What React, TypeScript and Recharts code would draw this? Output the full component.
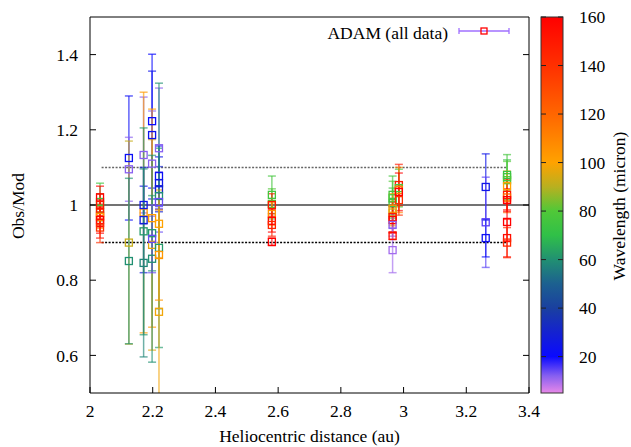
import React from 'react';
import { ScatterChart, Scatter, XAxis, YAxis, ErrorBar, ReferenceLine } from 'recharts';

// heliocentric distance (au) of each observing epoch
const epochs = [2.032, 2.124, 2.171, 2.198, 2.22, 2.58, 2.965, 2.985, 3.262, 3.33];

// [obs/mod, error, wavelength (micron)] for each epoch
const obs0 = [[1.008, 0.05, 75], [0.99, 0.04, 78], [1.02, 0.03, 160], [1.0, 0.03, 150], [0.98, 0.035, 150], [0.972, 0.03, 145], [0.968, 0.03, 105], [0.96, 0.035, 160], [0.952, 0.04, 155], [0.94, 0.04, 140]];
const obs1 = [[1.125, 0.165, 22], [1.095, 0.085, 12], [0.9, 0.27, 92], [0.851, 0.22, 60]];
const obs2 = [[1.133, 0.154, 12], [0.98, 0.32, 103], [1.0, 0.05, 25], [0.96, 0.14, 28], [0.93, 0.275, 62], [0.846, 0.25, 58]];
const obs3 = [[1.223, 0.178, 20], [1.186, 0.17, 24], [1.11, 0.14, 12], [0.965, 0.29, 102], [0.894, 0.28, 96], [0.925, 0.1, 62], [0.857, 0.275, 60], [0.91, 0.09, 14]];
const obs4 = [[1.151, 0.16, 12], [1.077, 0.08, 22], [1.058, 0.07, 25], [1.042, 0.06, 30], [1.024, 0.3, 60], [1.008, 0.08, 14], [0.95, 0.09, 100], [0.886, 0.265, 62], [0.867, 0.12, 104], [0.716, 0.3, 98]];
const obs5 = [[1.027, 0.05, 76], [1.003, 0.04, 80], [1.0, 0.03, 150], [0.976, 0.03, 105], [0.958, 0.03, 160], [0.947, 0.03, 145], [0.902, 0.01, 160]];
const obs6 = [[1.027, 0.05, 76], [1.018, 0.045, 80], [1.005, 0.04, 74], [0.99, 0.04, 105], [0.98, 0.035, 95], [0.968, 0.04, 150], [0.96, 0.035, 160], [0.947, 0.03, 12], [0.918, 0.01, 155], [0.88, 0.06, 10]];
const obs7 = [[1.053, 0.055, 150], [1.045, 0.05, 78], [1.04, 0.06, 110], [1.035, 0.05, 160], [1.013, 0.04, 140]];
const obs8 = [[1.048, 0.088, 25], [0.954, 0.12, 15], [0.912, 0.05, 22]];
const obs9 = [[1.08, 0.04, 72], [1.074, 0.06, 76], [1.066, 0.05, 80], [1.05, 0.04, 100], [1.027, 0.04, 150], [1.02, 0.04, 120], [1.013, 0.03, 160], [0.955, 0.05, 160], [0.912, 0.05, 155], [0.9, 0.04, 145]];
const observations = [obs0, obs1, obs2, obs3, obs4, obs5, obs6, obs7, obs8, obs9];

const xTicks = [2, 2.2, 2.4, 2.6, 2.8, 3, 3.2, 3.4];
const yTicks = [0.6, 0.8, 1, 1.2, 1.4];
const cbTicks = [20, 40, 60, 80, 100, 120, 140, 160];
const cbRange = [5, 160];
const bandLines = [0.9, 1.1];
const bandX = [2.037, 3.33];

// palette of the colour bar
const wlStops = [5, 12, 20, 30, 40, 50, 60, 70, 80, 90, 100, 120, 140, 160];
const wlColors = ['#e888e8', '#8860f0', '#0a0aff', '#1422d0', '#1a40a0', '#1c6090', '#219072', '#30c048', '#50c838', '#b8b020', '#ffa200', '#ff6600', '#ff3000', '#ff0000'];

const hex = (c: string) => [1, 3, 5].map((i) => parseInt(c.slice(i, i + 2), 16));
const wlColor = (wl: number) => {
  let i = 0;
  while (i < wlStops.length - 2 && wl > wlStops[i + 1]) i++;
  const t = Math.min(1, Math.max(0, (wl - wlStops[i]) / (wlStops[i + 1] - wlStops[i])));
  const a = hex(wlColors[i]);
  const b = hex(wlColors[i + 1]);
  const m = a.map((v, k) => Math.round(v + (b[k] - v) * t));
  return `rgb(${m[0]},${m[1]},${m[2]})`;
};

const rows = epochs.flatMap((x, i) => observations[i].map(([y, e, wl]) => ({ x, y, e, wl })));

const serif = 'Liberation Serif';
const font = { fontFamily: serif, fontSize: 17.5, fill: '#000' };

const square = (color: string) => (p: any) => (
  <rect x={p.cx - 3.5} y={p.cy - 3.5} width={7} height={7} fill="none" stroke={color} strokeWidth={1.3} />
);

// plot area and colour bar geometry (page pixels)
const plot = { x: 90, y: 17, w: 439, h: 376 };
const cb = { x: 541, y: 17, w: 22, h: 376 };
const cbY = (v: number) => cb.y + cb.h - ((v - cbRange[0]) / (cbRange[1] - cbRange[0])) * cb.h;

const App: React.FC = () => {
  return (
    <div style={{ position: 'absolute', left: 0, top: 0, width: 631, height: 447, background: '#fff', fontFamily: serif }}>
      <style>{`.recharts-errorBar { clip-path: url(#plotClip); } .recharts-cartesian-axis-tick-value { font-family: "Liberation Serif", serif; }`}</style>
      <ScatterChart width={631} height={447} margin={{ top: 16, right: 101, bottom: 4, left: 30 }} style={{ fontFamily: serif }}>
        <XAxis
          type="number"
          dataKey="x"
          domain={[2, 3.4]}
          ticks={xTicks}
          allowDataOverflow
          height={50}
          tickSize={-6}
          tickMargin={18}
          stroke="#000"
          tick={font}
          tickLine={{ stroke: '#000' }}
        />
        <XAxis
          xAxisId="top"
          orientation="top"
          type="number"
          domain={[2, 3.4]}
          ticks={xTicks}
          allowDataOverflow
          height={1}
          tickSize={-6}
          tickFormatter={() => ''}
          stroke="#000"
        />
        <YAxis
          type="number"
          dataKey="y"
          domain={[0.5, 1.5]}
          ticks={yTicks}
          allowDataOverflow
          width={60}
          tickSize={-6}
          tickMargin={18}
          stroke="#000"
          tick={font}
        />
        <YAxis
          yAxisId="right"
          orientation="right"
          type="number"
          domain={[0.5, 1.5]}
          ticks={yTicks}
          allowDataOverflow
          width={1}
          tickSize={-6}
          tickFormatter={() => ''}
          stroke="#000"
        />
        <ReferenceLine y={1} stroke="#444" strokeWidth={1.5} />
        {bandLines.map((v, i) => (
          <ReferenceLine
            key={v}
            segment={[{ x: bandX[0], y: v }, { x: bandX[1], y: v }]}
            stroke={i === 0 ? '#000' : '#666'}
            strokeWidth={1.5}
            strokeDasharray="2 1.5"
          />
        ))}
        {rows.map((r, i) => {
          const c = wlColor(r.wl);
          return (
            <Scatter key={i} data={[r]} isAnimationActive={false} shape={square(c)}>
              <ErrorBar dataKey="e" direction="y" width={4} stroke={c} strokeWidth={1.5} strokeOpacity={0.65} isAnimationActive={false} />
            </Scatter>
          );
        })}
      </ScatterChart>
      <svg width={631} height={447} style={{ position: 'absolute', left: 0, top: 0, pointerEvents: 'none' }}>
        <defs>
          <clipPath id="plotClip" clipPathUnits="userSpaceOnUse">
            <rect x={plot.x} y={plot.y} width={plot.w} height={plot.h} />
          </clipPath>
          <linearGradient id="wlGrad" x1="0" y1="1" x2="0" y2="0">
            {wlStops.map((s, i) => (
              <stop key={s} offset={(s - cbRange[0]) / (cbRange[1] - cbRange[0])} stopColor={wlColors[i]} />
            ))}
          </linearGradient>
        </defs>
        <text transform="translate(24,206) rotate(-90)" textAnchor="middle" style={font}>Obs/Mod</text>
        <text x={309.5} y={442} textAnchor="middle" style={font}>Heliocentric distance (au)</text>

        <text x={448} y={39} textAnchor="end" style={font}>ADAM (all data)</text>
        <g stroke="#a070ff" strokeWidth={1.3}>
          <line x1={459} y1={31} x2={509} y2={31} />
          <line x1={459} y1={28} x2={459} y2={34} />
          <line x1={509} y1={28} x2={509} y2={34} />
        </g>
        <rect x={481} y={28} width={6} height={6} fill="none" stroke="#ff0000" strokeWidth={1.3} />

        <rect x={cb.x} y={cb.y} width={cb.w} height={cb.h} fill="url(#wlGrad)" stroke="#333" strokeWidth={1} />
        {cbTicks.map((t) => (
          <g key={t}>
            <line x1={cb.x} x2={cb.x + 5} y1={cbY(t)} y2={cbY(t)} stroke="#222" />
            <line x1={cb.x + cb.w - 5} x2={cb.x + cb.w} y1={cbY(t)} y2={cbY(t)} stroke="#222" />
            <text x={579} y={cbY(t)} dominantBaseline="central" style={font}>{t}</text>
          </g>
        ))}
        <text transform="translate(625,206) rotate(-90)" textAnchor="middle" style={font}>Wavelength (micron)</text>
      </svg>
    </div>
  );
};

export default App;
